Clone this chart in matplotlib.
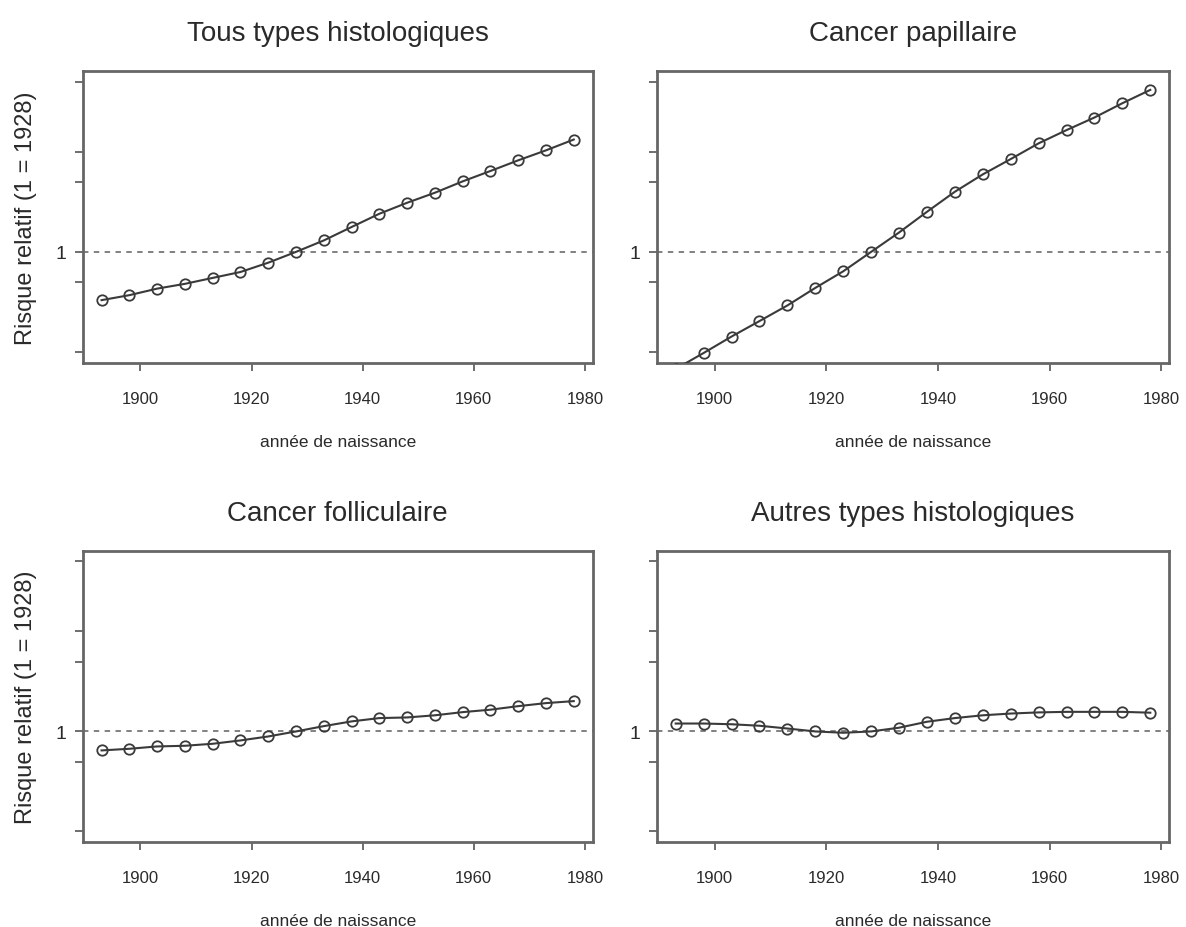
import matplotlib
matplotlib.use("Agg")
import matplotlib.pyplot as plt
import numpy as np

plt.rcParams['font.family'] = ['Liberation Sans', 'DejaVu Sans']

# annees de naissance (points centraux des cohortes)
annees = [1893, 1898, 1903, 1908, 1913, 1918, 1923, 1928, 1933,
          1938, 1943, 1948, 1953, 1958, 1963, 1968, 1973, 1978]

# risques relatifs (reference 1928 = 1)
rr_tous = [0.33, 0.37, 0.43, 0.48, 0.55, 0.63, 0.78, 1.0, 1.30,
           1.77, 2.40, 3.09, 3.89, 5.05, 6.41, 8.19, 10.3, 13.2]
rr_papillaire = [0.068, 0.098, 0.143, 0.204, 0.292, 0.437, 0.64, 1.0, 1.56,
                 2.51, 3.98, 5.93, 8.43, 12.1, 16.4, 21.9, 30.4, 41.3]
rr_folliculaire = [0.646, 0.671, 0.708, 0.719, 0.753, 0.813, 0.891, 1.0, 1.13,
                   1.26, 1.36, 1.38, 1.45, 1.56, 1.65, 1.79, 1.92, 2.01]
rr_autres = [1.20, 1.20, 1.18, 1.14, 1.07, 1.0, 0.97, 1.0, 1.09,
             1.25, 1.36, 1.45, 1.51, 1.55, 1.57, 1.57, 1.57, 1.54]

titres = ["Tous types histologiques", "Cancer papillaire",
          "Cancer folliculaire", "Autres types histologiques"]
series = [rr_tous, rr_papillaire, rr_folliculaire, rr_autres]

yticks = [0.1, 0.5, 1, 5, 10, 50]
ytick_labels = ['', '', '1', '', '', '']
xticks = [1900, 1920, 1940, 1960, 1980]

fig = plt.figure(figsize=(11.86, 9.28), dpi=100)

positions = [
    [0.0697, 0.6078, 0.4300, 0.3149],
    [0.5537, 0.6078, 0.4322, 0.3149],
    [0.0697, 0.0913, 0.4300, 0.3142],
    [0.5537, 0.0913, 0.4322, 0.3142],
]

# R style: 4% expansion of the ranges
xmin, xmax = min(annees), max(annees)
dx = 0.04 * (xmax - xmin)
lmin, lmax = np.log10(0.1), np.log10(50)
dl = 0.04 * (lmax - lmin)

txt = '#2a2a2a'
for i in range(4):
    ax = fig.add_axes(positions[i])
    ax.set_yscale('log')
    ax.axhline(1, color='#777777', lw=1.3, linestyle=(0, (3, 3)), zorder=1)
    ax.plot(annees, series[i], color='#3a3a3a', lw=1.5, marker='o',
            markersize=7.5, markerfacecolor='none', markeredgecolor='#3a3a3a',
            markeredgewidth=1.3, zorder=3)
    ax.set_xlim(xmin - dx, xmax + dx)
    ax.set_ylim(10 ** (lmin - dl), 10 ** (lmax + dl))
    ax.set_xticks(xticks)
    ax.set_xticklabels([str(t) for t in xticks])
    ax.set_yticks(yticks)
    ax.set_yticklabels(ytick_labels)
    ax.minorticks_off()
    ax.tick_params(axis='x', length=6, width=1.2, color='#555555',
                   labelsize=12, labelcolor=txt, pad=14)
    ax.tick_params(axis='y', length=6, width=1.2, color='#555555',
                   labelsize=14, labelcolor=txt, pad=6)
    for s in ax.spines.values():
        s.set_linewidth(2)
        s.set_color('#666666')
    ax.set_title(titres[i], fontsize=20, color=txt, pad=22)
    ax.set_xlabel("année de naissance", fontsize=12.5, color=txt, labelpad=20)
    if i % 2 == 0:
        ax.set_ylabel("Risque relatif (1 = 1928)", fontsize=17, color=txt,
                      labelpad=13)

plt.savefig("out.png", dpi=100)
